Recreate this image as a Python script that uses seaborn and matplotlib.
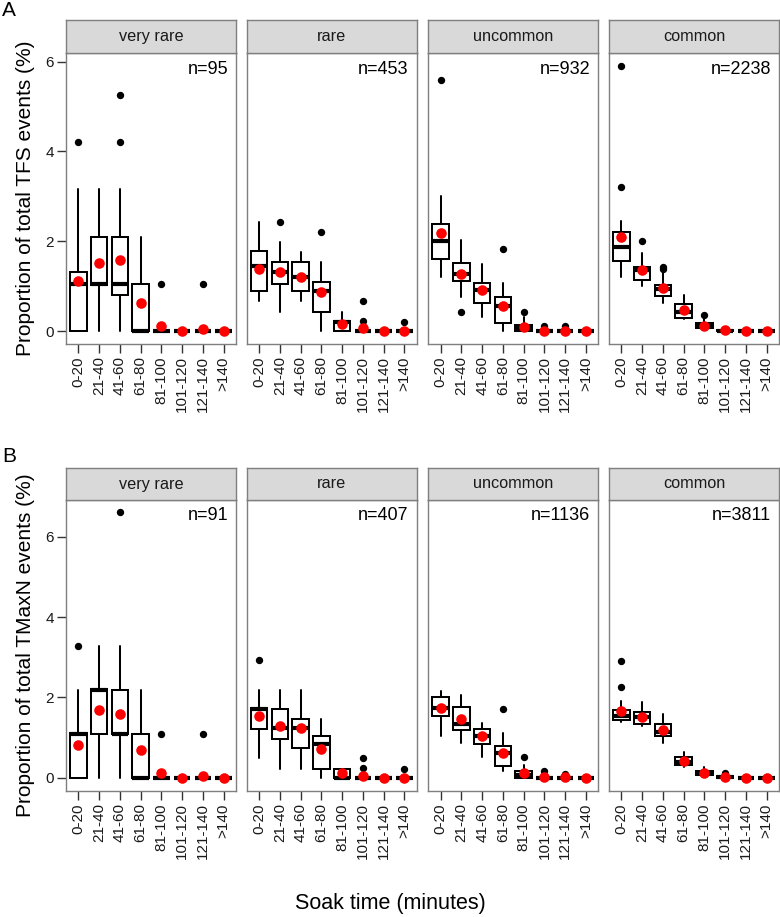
import numpy as np
import pandas as pd
import matplotlib
matplotlib.use("Agg")
import matplotlib.pyplot as plt
import seaborn as sns

# ---------------- data ----------------
categories = ["0-20", "21-40", "41-60", "61-80", "81-100", "101-120", "121-140", ">140"]
groups = ["very rare", "rare", "uncommon", "common"]

A_n = [95, 453, 932, 2238]
B_n = [91, 407, 1136, 3811]

# Panel A (TFS) – rows = groups, cols = categories
A_q1 = [[0, 1.04, 0.80, 0, 0, 0, 0, 0],
        [0.89, 1.05, 0.89, 0.44, 0, 0, 0, 0],
        [1.61, 1.13, 0.64, 0.19, 0, 0, 0, 0],
        [1.56, 1.15, 0.79, 0.30, 0.07, 0, 0, 0]]
A_med = [[1.05, 1.05, 1.05, 0, 0, 0, 0, 0],
         [1.46, 1.33, 1.22, 0.89, 0.22, 0, 0, 0],
         [2.00, 1.27, 0.91, 0.56, 0.08, 0, 0, 0],
         [1.87, 1.36, 0.94, 0.44, 0.13, 0.02, 0, 0]]
A_q3 = [[1.31, 2.11, 2.11, 1.05, 0, 0, 0, 0],
        [1.78, 1.55, 1.55, 1.10, 0.24, 0, 0, 0],
        [2.39, 1.51, 1.08, 0.76, 0.15, 0, 0, 0],
        [2.21, 1.44, 1.04, 0.61, 0.19, 0.04, 0, 0]]
A_lo = [[0, 0, 0, 0, 0, 0, 0, 0],
        [0.67, 0.44, 0.67, 0, 0, 0, 0, 0],
        [1.20, 0.76, 0.33, 0, 0, 0, 0, 0],
        [1.22, 1.00, 0.64, 0.28, 0.04, 0, 0, 0]]
A_hi = [[3.16, 3.16, 3.16, 2.10, 0, 0, 0, 0],
        [2.43, 1.99, 1.76, 1.54, 0.44, 0, 0, 0],
        [3.00, 2.04, 1.50, 1.07, 0.33, 0, 0, 0],
        [2.46, 1.74, 1.31, 0.81, 0.28, 0.07, 0, 0]]
A_mean = [[1.11, 1.53, 1.59, 0.64, 0.11, 0, 0.05, 0],
          [1.39, 1.31, 1.22, 0.87, 0.17, 0.07, 0, 0],
          [2.19, 1.27, 0.92, 0.56, 0.10, 0.02, 0.02, 0],
          [2.10, 1.36, 0.96, 0.48, 0.13, 0.03, 0, 0]]
A_out = [[[4.21], [], [4.21, 5.26], [], [1.05], [], [1.05], []],
         [[], [2.43], [], [2.21], [], [0.24, 0.67], [], [0.22]],
         [[5.58], [0.43], [], [1.83], [0.43], [0.13], [0.13], []],
         [[3.22, 5.90], [2.02], [1.39, 1.44], [], [0.36], [], [], []]]

# Panel B (TMaxN)
B_q1 = [[0, 1.08, 1.08, 0, 0, 0, 0, 0],
        [1.22, 0.97, 0.73, 0.23, 0, 0, 0, 0],
        [1.53, 1.19, 0.85, 0.29, 0, 0, 0, 0],
        [1.44, 1.33, 1.03, 0.32, 0.07, 0, 0, 0]]
B_med = [[1.08, 2.19, 1.08, 0, 0, 0, 0, 0],
         [1.72, 1.23, 1.23, 0.85, 0, 0, 0, 0],
         [1.73, 1.33, 1.03, 0.61, 0.08, 0, 0, 0],
         [1.55, 1.51, 1.13, 0.40, 0.12, 0.02, 0, 0]]
B_q3 = [[1.11, 2.22, 2.19, 1.08, 0, 0, 0, 0],
        [1.73, 1.71, 1.47, 1.03, 0.23, 0, 0, 0],
        [2.01, 1.75, 1.22, 0.79, 0.18, 0, 0, 0],
        [1.69, 1.63, 1.33, 0.51, 0.18, 0.05, 0, 0]]
B_lo = [[0, 0, 0, 0, 0, 0, 0, 0],
        [0.48, 0.23, 0.23, 0, 0, 0, 0, 0],
        [1.03, 0.86, 0.51, 0.17, 0, 0, 0, 0],
        [1.40, 1.28, 0.86, 0.26, 0.04, 0, 0, 0]]
B_hi = [[2.19, 3.29, 3.29, 2.19, 0, 0, 0, 0],
        [2.19, 2.19, 2.19, 1.46, 0.23, 0, 0, 0],
        [2.15, 2.07, 1.36, 1.11, 0.32, 0, 0, 0],
        [1.90, 1.88, 1.58, 0.65, 0.28, 0.09, 0, 0]]
B_mean = [[0.81, 1.69, 1.59, 0.70, 0.11, 0, 0.05, 0],
          [1.53, 1.30, 1.23, 0.71, 0.11, 0.05, 0, 0],
          [1.73, 1.46, 1.03, 0.62, 0.12, 0.02, 0.01, 0],
          [1.67, 1.51, 1.19, 0.42, 0.13, 0.03, 0, 0]]
B_out = [[[3.29], [], [6.61], [], [1.08], [], [1.08], []],
         [[2.94], [], [], [], [], [0.25, 0.48], [], [0.23]],
         [[], [], [], [1.72], [0.51], [0.18], [0.09], []],
         [[2.25, 2.92], [], [], [], [], [0.13], [], []]]

# ---------------- style ----------------
sns.set_theme(style="white")
plt.rcParams["font.family"] = ["Liberation Sans", "DejaVu Sans"]

W, H = 780, 917
fig = plt.figure(figsize=(W / 100, H / 100), dpi=100)


def rect(x0, ytop, w, h):
    return [x0 / W, 1 - (ytop + h) / H, w / W, h / H]


panel_left = [66, 246.7, 428.3, 609]
panel_w = 170
BORDER = "#7F7F7F"
TXT = "#1A1A1A"

rows = [
    dict(q1=A_q1, med=A_med, q3=A_q3, lo=A_lo, hi=A_hi, mean=A_mean, out=A_out, n=A_n,
         strip_top=20, plot_top=53, plot_h=291, ylim=(-0.28, 6.19),
         ylabel="Proportion of total TFS events (%)", letter="A", letter_y=10),
    dict(q1=B_q1, med=B_med, q3=B_q3, lo=B_lo, hi=B_hi, mean=B_mean, out=B_out, n=B_n,
         strip_top=467.5, plot_top=499.5, plot_h=291.5, ylim=(-0.33, 6.93),
         ylabel="Proportion of total TMaxN events (%)", letter="B", letter_y=457),
]

for r in rows:
    for gi, g in enumerate(groups):
        ax = fig.add_axes(rect(panel_left[gi], r["plot_top"], panel_w, r["plot_h"]))
        stats = []
        for ci in range(len(categories)):
            stats.append(dict(q1=r["q1"][gi][ci], med=r["med"][gi][ci], q3=r["q3"][gi][ci],
                              whislo=r["lo"][gi][ci], whishi=r["hi"][gi][ci], fliers=[]))
        ax.bxp(stats, positions=np.arange(len(categories)), widths=0.8,
               showfliers=False, showcaps=False, patch_artist=True, manage_ticks=False,
               boxprops=dict(facecolor="white", edgecolor="black", linewidth=1.45),
               medianprops=dict(color="black", linewidth=3.0, solid_capstyle="butt"),
               whiskerprops=dict(color="black", linewidth=1.45), zorder=2)

        out_df = pd.DataFrame([(categories[ci], v)
                               for ci in range(len(categories))
                               for v in r["out"][gi][ci]], columns=["soak", "value"])
        mean_df = pd.DataFrame({"soak": categories, "mean": r["mean"][gi]})

        sns.stripplot(data=out_df, x="soak", y="value", order=categories, jitter=False,
                      color="black", size=5.3, linewidth=0, ax=ax, zorder=3)
        sns.stripplot(data=mean_df, x="soak", y="mean", order=categories, jitter=False,
                      color="#FF0000", size=7.6, linewidth=0, ax=ax, zorder=4)

        ax.set_xlim(-0.6, len(categories) - 0.4)
        ax.set_ylim(*r["ylim"])
        ax.set_xlabel("")
        ax.set_ylabel("")
        ax.set_xticks(np.arange(len(categories)))
        ax.set_xticklabels(categories, rotation=90, color=TXT)
        ax.set_yticks([0, 2, 4, 6])
        ax.set_yticklabels(["0", "2", "4", "6"], color=TXT)
        ax.tick_params(axis="both", direction="out", length=6.8, width=1.0,
                       color="#333333", labelsize=11, pad=2, bottom=True, left=True)
        if gi > 0:
            ax.tick_params(axis="y", left=False, labelleft=False)
        for s in ax.spines.values():
            s.set_color(BORDER)
            s.set_linewidth(1.0)
            s.set_visible(True)
        ax.grid(False)
        ax.set_facecolor("white")
        ax.text(0.953, 0.945, f"n={r['n'][gi]}", transform=ax.transAxes,
                ha="right", va="center", fontsize=13, color="black")

        sx = fig.add_axes(rect(panel_left[gi], r["strip_top"], panel_w, 33))
        sx.set_facecolor("#D9D9D9")
        sx.set_xticks([])
        sx.set_yticks([])
        for s in sx.spines.values():
            s.set_color(BORDER)
            s.set_linewidth(1.0)
            s.set_visible(True)
        sx.text(0.5, 0.5, g, transform=sx.transAxes, ha="center", va="center",
                fontsize=11.7, color=TXT)

    fig.text(26 / W, 1 - (r["plot_top"] + r["plot_h"] / 2) / H, r["ylabel"],
             rotation=90, ha="center", va="center", fontsize=15, color="black")
    fig.text(2 / W, 1 - r["letter_y"] / H, r["letter"], ha="left", va="center",
             fontsize=15, color="black")

fig.text(390 / W, 1 - 904 / H, "Soak time (minutes)", ha="center", va="center",
         fontsize=15.5, color="black")

fig.savefig("out.png", dpi=100)
